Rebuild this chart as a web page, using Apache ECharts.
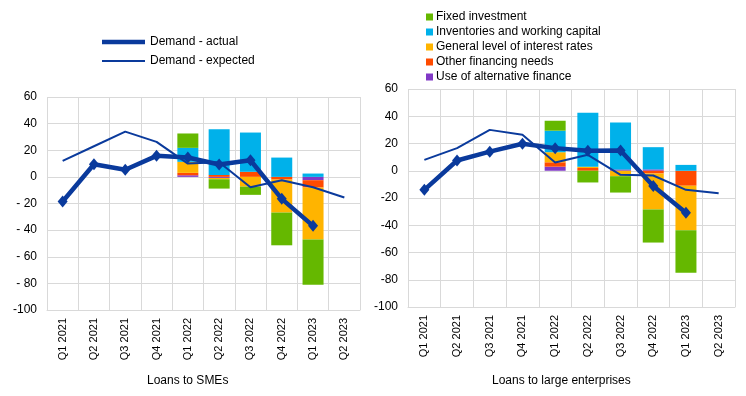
<!DOCTYPE html>
<html>
<head>
<meta charset="utf-8">
<script src="https://cdn.jsdelivr.net/npm/echarts@6/dist/echarts.min.js"></script>
<style>
html,body{margin:0;padding:0;background:#fff;}
#c{width:746px;height:396px;}
</style>
</head>
<body>
<div id="c"></div>
<script>
const categories = ['Q1 2021','Q2 2021','Q3 2021','Q4 2021','Q1 2022','Q2 2022','Q3 2022','Q4 2022','Q1 2023','Q2 2023'];
const yTicks = [60, 40, 20, 0, -20, -40, -60, -80, -100];

// Loans to SMEs
const smeAlt         = [null,null,null,null, 1.2, -0.8,  0,    0,    -2.5, null];
const smeOther       = [null,null,null,null, 1.8,  1.5,  3.8, -2,    -5.5, null];
const smeInterest    = [null,null,null,null, 8.3, -1,   -7.3, -24.8, -39,  null];
const smeInventories = [null,null,null,null, 10.5, 34.3, 29.5, 14.5,  2.5, null];
const smeFixed       = [null,null,null,null, 10.8, -7,  -6.2, -24.6, -34,  null];
const smeActual      = [-18.5, 9.5, 5.3, 15.8, 14.5, 9.3, 12.5, -16.5, -36.8, null];
const smeExpected    = [12, 23, 34, 26.3, 10, 11, -7.8, -2.5, -7.8, -15.5];

// Loans to large enterprises
const largeAlt         = [null,null,null,null, 3,    0,    1,    1,     0,    null];
const largeOther       = [null,null,null,null, 3.2,  2,    0,   -2,    -11,   null];
const largeInterest    = [null,null,null,null, 7.4,  1,   -4,   -26.4, -32.6, null];
const largeInventories = [null,null,null,null, 15.8, 39.5, 34.5, 16.3,  4.3, null];
const largeFixed       = [null,null,null,null, 7.3, -8.6, -12,  -24.3, -31.2, null];
const largeActual      = [-14, 7.5, 14, 19.8, 16.6, 14.6, 14.8, -11.2, -30.8, null];
const largeExpected    = [8, 16.6, 30, 26.4, 6, 11.7, -3, -3.5, -14, -16.6];

const names = {
  fixed: 'Fixed investment',
  inv: 'Inventories and working capital',
  rate: 'General level of interest rates',
  other: 'Other financing needs',
  alt: 'Use of alternative finance',
  actual: 'Demand - actual',
  expected: 'Demand - expected'
};
const colors = {
  fixed: '#65b800', inv: '#00b1ea', rate: '#ffb400', other: '#ff4b00', alt: '#8139c6', line: '#0a3a9c'
};
const FONT = '"Liberation Sans", Arial, sans-serif';

function bars(idx, stackName, alt, other, rate, inv, fixed) {
  const mk = (name, data, color) => ({
    name, type: 'bar', stack: stackName, xAxisIndex: idx, yAxisIndex: idx,
    data, barWidth: 21, itemStyle: { color }, emphasis: { disabled: true }, z: 2
  });
  return [
    mk(names.alt, alt, colors.alt),
    mk(names.other, other, colors.other),
    mk(names.rate, rate, colors.rate),
    mk(names.inv, inv, colors.inv),
    mk(names.fixed, fixed, colors.fixed)
  ];
}
function lines(idx, actual, expected) {
  return [
    { name: names.expected, type: 'line', xAxisIndex: idx, yAxisIndex: idx, data: expected,
      symbol: 'none', lineStyle: { color: colors.line, width: 2 }, itemStyle: { color: colors.line }, z: 4 },
    { name: names.actual, type: 'line', xAxisIndex: idx, yAxisIndex: idx, data: actual,
      symbol: 'diamond', symbolSize: [10, 12], showSymbol: true,
      lineStyle: { color: colors.line, width: 4.5 }, itemStyle: { color: colors.line }, z: 5 }
  ];
}
function xAxis(idx) {
  return {
    type: 'category', gridIndex: idx, data: categories, boundaryGap: true,
    axisLine: { onZero: false, lineStyle: { color: '#d9d9d9' } },
    axisTick: { show: false },
    axisLabel: { rotate: 90, fontSize: 11, color: '#000', fontFamily: FONT, margin: 8, interval: 0 },
    splitLine: { show: true, interval: 0, lineStyle: { color: '#d9d9d9', width: 1 } }
  };
}
function yAxis(idx, fmt) {
  return {
    type: 'value', gridIndex: idx, min: yTicks[yTicks.length - 1], max: yTicks[0], interval: 20,
    axisLine: { show: false }, axisTick: { show: false },
    axisLabel: { fontSize: 12, color: '#000', fontFamily: FONT, margin: 10, formatter: fmt },
    splitLine: { show: true, lineStyle: { color: '#d9d9d9', width: 1 } }
  };
}

const chart = echarts.init(document.getElementById('c'), null, { renderer: 'canvas' });
chart.setOption({
  animation: false,
  backgroundColor: '#fff',
  textStyle: { fontFamily: FONT },
  grid: [
    { left: 47, right: 386, top: 97, bottom: 86 },
    { left: 408, right: 11, top: 89, bottom: 89 }
  ],
  xAxis: [xAxis(0), xAxis(1)],
  yAxis: [
    yAxis(0, v => (v < 0 && v > -100) ? '- ' + (-v) : String(v)),
    yAxis(1, v => String(v))
  ],
  legend: [
    { data: [
        { name: names.actual, icon: 'path://M0 0H100V10H0Z' },
        { name: names.expected, icon: 'path://M0 0H100V4.5H0Z' }
      ],
      orient: 'vertical', left: 102, top: 36,
      padding: 0, itemWidth: 43, itemHeight: 12, itemGap: 7, selectedMode: false,
      textStyle: { fontSize: 12, color: '#000', fontFamily: FONT } },
    { data: [names.fixed, names.inv, names.rate, names.other, names.alt].map(n => ({ name: n, icon: 'rect' })),
      orient: 'vertical', left: 426, top: 10, padding: 0, itemWidth: 7, itemHeight: 7, itemGap: 1,
      selectedMode: false,
      textStyle: { fontSize: 12, color: '#000', fontFamily: FONT, lineHeight: 14, padding: [0,0,0,-2] } }
  ],
  graphic: [
    { type: 'text', left: 147, top: 375, style: { text: 'Loans to SMEs', fill: '#000', font: '12px ' + FONT } },
    { type: 'text', left: 492, top: 375, style: { text: 'Loans to large enterprises', fill: '#000', font: '12px ' + FONT } }
  ],
  series: [
    ...bars(0, 'sme', smeAlt, smeOther, smeInterest, smeInventories, smeFixed),
    ...lines(0, smeActual, smeExpected),
    ...bars(1, 'large', largeAlt, largeOther, largeInterest, largeInventories, largeFixed),
    ...lines(1, largeActual, largeExpected)
  ]
});
</script>
</body>
</html>
